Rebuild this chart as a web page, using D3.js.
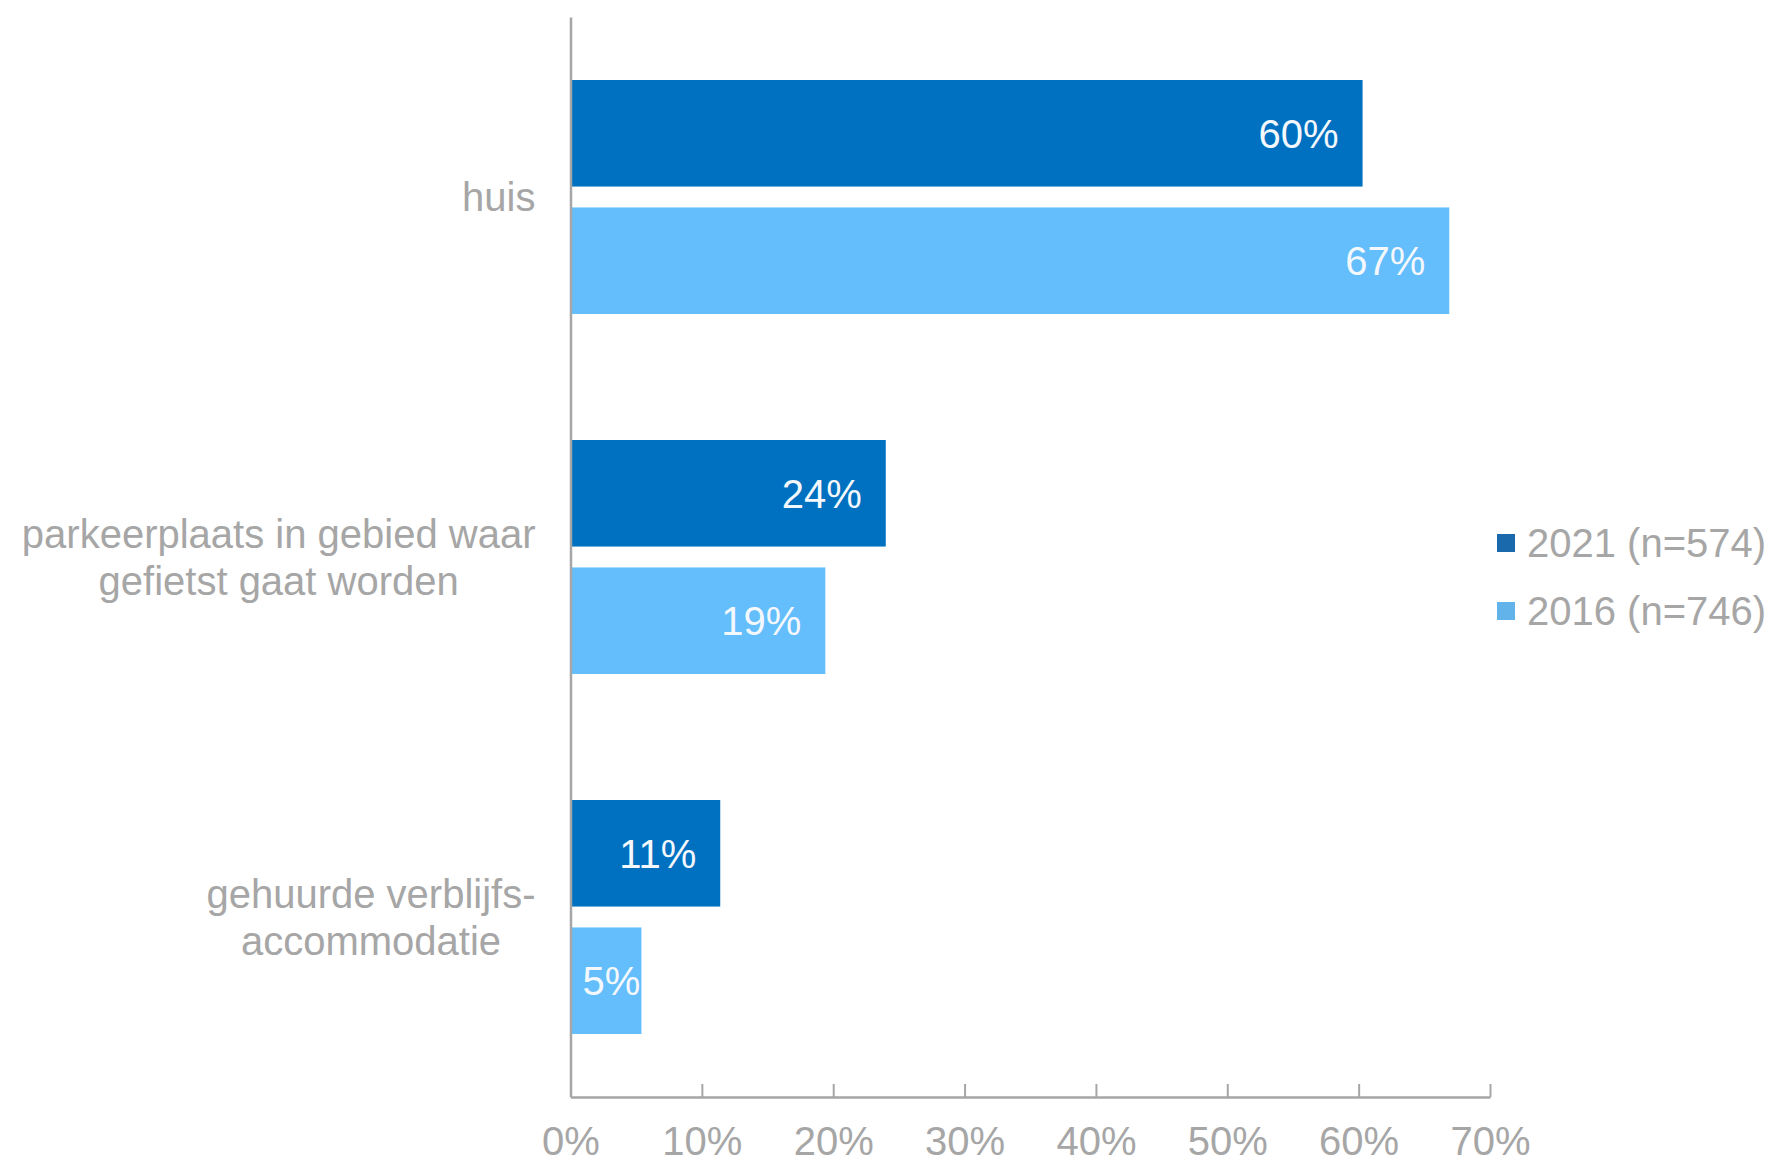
<!DOCTYPE html>
<html><head><meta charset="utf-8">
<script src="https://cdn.jsdelivr.net/npm/d3@7"></script>
<style>html,body{margin:0;padding:0;background:#fff;}svg{display:block;}</style>
</head><body>
<svg id="chart" width="1774" height="1163"></svg>
<script>
const categories = ["huis", "parkeerplaats in gebied waar|gefietst gaat worden", "gehuurde verblijfs-|accommodatie"];
const seriesNames = ["2021 (n=574)", "2016 (n=746)"];
const values2021 = [60.3, 24.0, 11.4];
const values2016 = [66.9, 19.4, 5.4];
const tickValues = [0, 10, 20, 30, 40, 50, 60, 70];
const colors = ["#0070C0", "#63BEFB"];
const legendColors = ["#1a69ad", "#62b3ea"];

const svg = d3.select("#chart");
const font = "'Liberation Sans', Arial, sans-serif";
const fs = 40;
const textGray = "#a6a6a6";
const axisGray = "#a6a6a6";

const x = d3.scaleLinear().domain([0, 70]).range([570.5, 1490]);
const y = d3.scaleBand().domain(categories).range([17, 1097]).paddingInner(0.35).paddingOuter(0.175);
const inner = d3.scaleBand().domain([0, 1]).range([0, y.bandwidth()]).paddingInner(0.164);

const series = [values2021, values2016];
const data = [];
categories.forEach((c, i) => series.forEach((s, j) => data.push({cat: c, s: j, v: s[i]})));

// bars
svg.append("g").selectAll("rect").data(data).join("rect")
  .attr("x", x(0))
  .attr("y", d => y(d.cat) + inner(d.s))
  .attr("width", d => x(d.v) - x(0))
  .attr("height", inner.bandwidth())
  .attr("fill", d => colors[d.s]);

// value labels
const vl = svg.append("g").selectAll("text").data(data).join("text")
  .attr("y", d => y(d.cat) + inner(d.s) + inner.bandwidth() / 2)
  .attr("dy", "0.36em")
  .attr("text-anchor", "end")
  .attr("font-family", font).attr("font-size", fs)
  .attr("fill", "#f4f8fc")
  .text(d => Math.round(d.v) + "%");
vl.each(function(d) {
  const w = this.getComputedTextLength();
  let right = x(d.v) - 24;
  if (right - w < x(0) + 12) right = x(0) + 12 + w;
  d3.select(this).attr("x", right);
});

// x axis
const xAxis = d3.axisBottom(x).tickValues(tickValues).tickFormat(d => d + "%").tickSizeInner(-13).tickSizeOuter(0).tickPadding(30);
const gx = svg.append("g").attr("transform", `translate(0,${y.range()[1]})`).call(xAxis);
gx.select(".domain").attr("stroke", axisGray).attr("stroke-width", 2.5);
gx.selectAll(".tick line").attr("stroke", axisGray).attr("stroke-width", 2);
gx.selectAll(".tick text").attr("font-family", font).attr("font-size", fs).attr("fill", textGray);

// y axis line
const yAxis = d3.axisLeft(y).tickSize(0).tickFormat("");
const gy = svg.append("g").attr("transform", `translate(${x(0)},0)`).call(yAxis);
gy.select(".domain").attr("stroke", axisGray).attr("stroke-width", 2.5);

// category labels
const cl = svg.append("g").selectAll("text").data(categories).join("text")
  .attr("font-family", font).attr("font-size", fs).attr("fill", textGray)
  .attr("text-anchor", "middle");
cl.each(function(c) {
  const lines = c.split("|");
  const t = d3.select(this);
  const cy = y(c) + y.bandwidth() / 2;
  const lh = 47;
  lines.forEach((ln, k) => {
    t.append("tspan").attr("y", cy + (k - (lines.length - 1) / 2) * lh).attr("dy", "0.36em").text(ln);
  });
  let maxW = 0;
  t.selectAll("tspan").each(function() { maxW = Math.max(maxW, this.getComputedTextLength()); });
  const cx = x(0) - 35 - maxW / 2;
  t.selectAll("tspan").attr("x", cx);
});

// legend
const lg = svg.append("g").selectAll("g").data(seriesNames).join("g")
  .attr("transform", (d, i) => `translate(1497,${543 + i * 68})`);
lg.append("rect").attr("x", 0).attr("y", -9).attr("width", 18).attr("height", 18)
  .attr("fill", (d, i) => legendColors[i]);
lg.append("text").attr("x", 30).attr("dy", "0.36em")
  .attr("font-family", font).attr("font-size", fs).attr("fill", textGray)
  .text(d => d);
</script>
</body></html>
